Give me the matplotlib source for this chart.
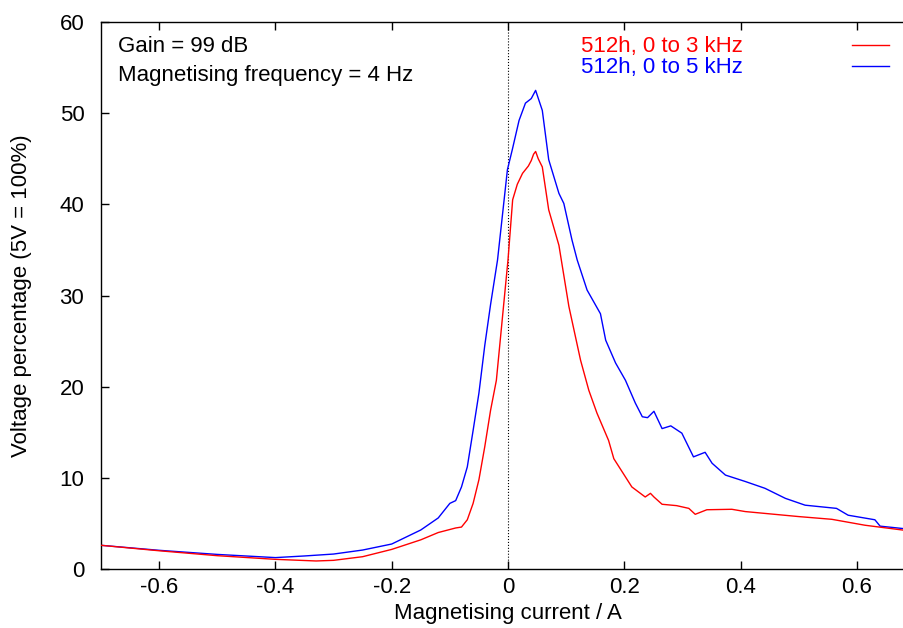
import matplotlib
matplotlib.use("Agg")
import matplotlib.pyplot as plt

plt.rcParams['font.family'] = ['Liberation Sans', 'DejaVu Sans']

# 512h, 0 to 3 kHz (red)
red_x = [-0.70, -0.60, -0.50, -0.40, -0.33, -0.30, -0.25, -0.20, -0.15, -0.12,
         -0.09, -0.08, -0.07, -0.06, -0.05, -0.04, -0.03, -0.02, -0.01, 0.0,
         0.008, 0.016, 0.025, 0.035, 0.040, 0.044, 0.0475, 0.052, 0.059, 0.070,
         0.0876, 0.1047, 0.1248, 0.139, 0.153, 0.173, 0.182, 0.202, 0.213, 0.236,
         0.245, 0.251, 0.265, 0.290, 0.311, 0.322, 0.342, 0.385, 0.408, 0.50,
         0.557, 0.614, 0.70]
red_y = [2.6, 2.0, 1.46, 1.06, 0.88, 0.95, 1.35, 2.15, 3.2, 4.0,
         4.5, 4.6, 5.4, 7.2, 9.8, 13.4, 17.4, 20.7, 27.3, 33.9,
         40.5, 42.2, 43.4, 44.2, 44.8, 45.5, 45.8, 45.0, 44.1, 39.4,
         35.5, 28.8, 22.9, 19.6, 17.1, 14.1, 12.1, 10.1, 9.0, 7.9,
         8.3, 7.9, 7.1, 6.95, 6.65, 6.0, 6.5, 6.55, 6.3, 5.75,
         5.45, 4.8, 4.1]

# 512h, 0 to 5 kHz (blue)
blue_x = [-0.70, -0.60, -0.50, -0.40, -0.35, -0.30, -0.25, -0.20, -0.15, -0.12,
          -0.10, -0.09, -0.08, -0.07, -0.06, -0.05, -0.04, -0.03, -0.018, -0.001,
          0.0074, 0.019, 0.030, 0.040, 0.0475, 0.059, 0.070, 0.0876, 0.096, 0.110,
          0.119, 0.136, 0.159, 0.168, 0.185, 0.202, 0.219, 0.231, 0.240, 0.251,
          0.265, 0.280, 0.299, 0.319, 0.339, 0.351, 0.374, 0.408, 0.442, 0.477,
          0.511, 0.565, 0.585, 0.631, 0.640, 0.70]
blue_y = [2.6, 2.05, 1.6, 1.25, 1.43, 1.64, 2.08, 2.74, 4.28, 5.6,
          7.2, 7.5, 9.0, 11.2, 15.2, 19.3, 24.5, 29.0, 33.9, 43.8,
          46.0, 49.2, 51.1, 51.6, 52.5, 50.3, 44.9, 41.2, 40.1, 36.1,
          33.9, 30.6, 28.0, 25.1, 22.6, 20.7, 18.2, 16.7, 16.6, 17.3,
          15.4, 15.7, 14.9, 12.3, 12.8, 11.6, 10.3, 9.6, 8.85, 7.75,
          7.0, 6.65, 5.9, 5.4, 4.7, 4.3]

x_ticks = [-0.6, -0.4, -0.2, 0, 0.2, 0.4, 0.6]
x_tick_labels = ['-0.6', '-0.4', '-0.2', '0', '0.2', '0.4', '0.6']
y_ticks = [0, 10, 20, 30, 40, 50, 60]

fs = 16

fig = plt.figure(figsize=(9.04, 6.28), dpi=100)
# axes run a little past the right edge of the picture, as in the reference
ax = fig.add_axes([101 / 904, 59 / 628, 814 / 904, 547 / 628])

ax.axvline(0, color='black', ls=':', lw=0.8, zorder=1)
ax.plot(red_x, red_y, color='#ff0000', lw=1.0, label='512h, 0 to 3 kHz', zorder=3)
ax.plot(blue_x, blue_y, color='#0000ff', lw=1.0, label='512h, 0 to 5 kHz', zorder=2)

ax.set_xlim(-0.7, 0.7)
ax.set_ylim(0, 60)
ax.set_xticks(x_ticks)
ax.set_xticklabels(x_tick_labels)
ax.set_yticks(y_ticks)
ax.tick_params(direction='in', length=6, width=1, labelsize=fs,
               top=True, right=True)
ax.tick_params(axis='x', pad=6)
ax.tick_params(axis='y', pad=12)
for s in ax.spines.values():
    s.set_linewidth(1.0)

ax.set_xlabel('Magnetising current / A', fontsize=fs, labelpad=3)
ax.set_ylabel('Voltage percentage (5V = 100%)', fontsize=fs, labelpad=20)

ax.text(0.021, 0.955, 'Gain = 99 dB', transform=ax.transAxes, fontsize=fs, va='center')
ax.text(0.021, 0.902, 'Magnetising frequency = 4 Hz', transform=ax.transAxes,
        fontsize=fs, va='center')

ax.legend(loc='upper right', bbox_to_anchor=(0.9855, 1.0), frameon=False,
          markerfirst=False, labelcolor='linecolor', fontsize=fs,
          handlelength=1.65, handletextpad=4.9, labelspacing=0.0,
          borderaxespad=0.25)

fig.savefig('out.png', dpi=100)
